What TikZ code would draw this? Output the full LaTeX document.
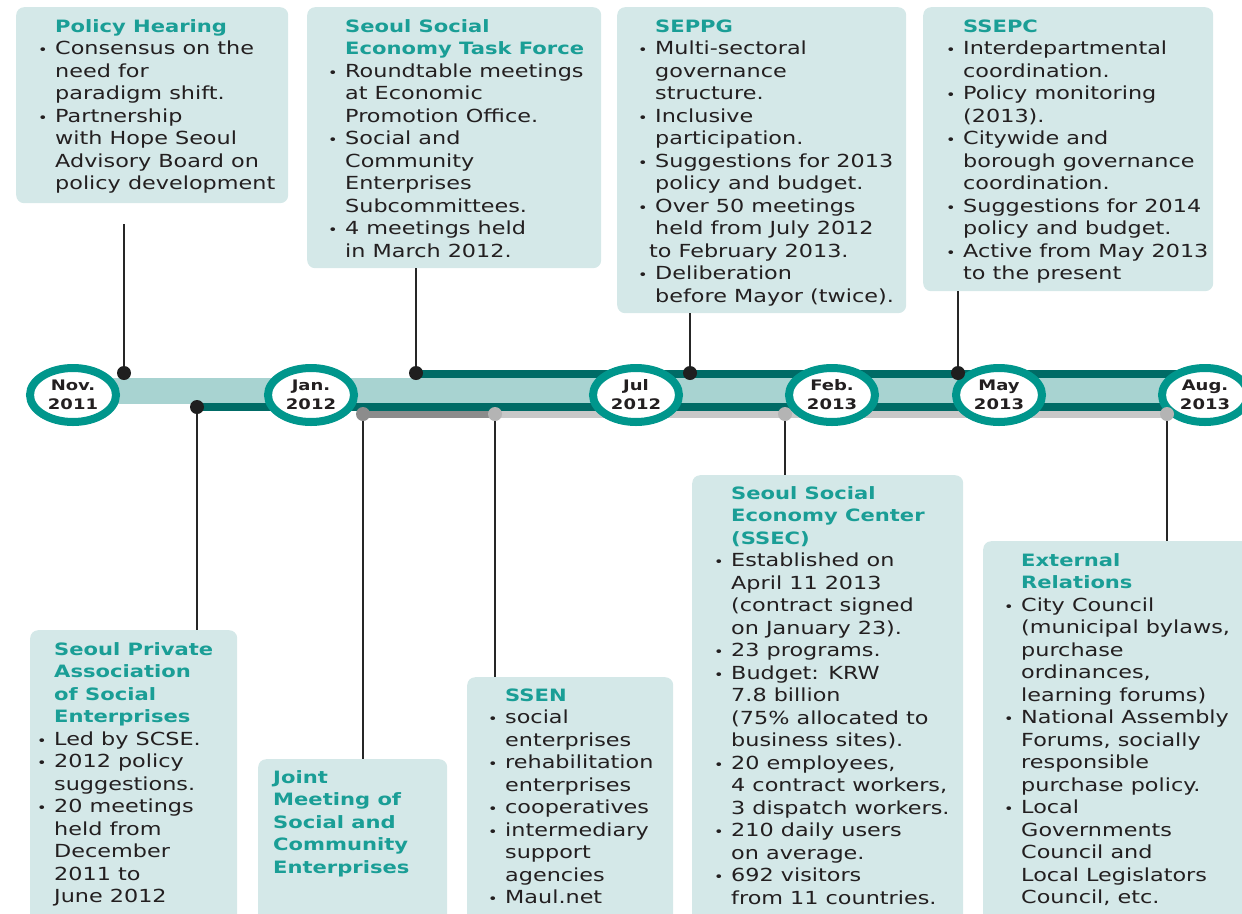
\documentclass[tikz,border=0pt]{standalone}
\usepackage{fontspec}
\setmainfont{DejaVu Sans}[FakeStretch=1.24]
\usetikzlibrary{shapes.geometric}
\definecolor{boxc}{HTML}{D4E8E8}
\definecolor{titlec}{HTML}{1A9E96}
\definecolor{bodyc}{HTML}{231F20}
\definecolor{ringc}{HTML}{00968C}
\definecolor{bandc}{HTML}{A8D3D1}
\definecolor{darkt}{HTML}{006B66}
\definecolor{greyd}{HTML}{8C8C8C}
\definecolor{greyl}{HTML}{C8C8C8}
\newcommand\bl{\makebox[17pt][l]{\fontsize{13}{13}\selectfont •}}
\newcommand\ct{\hspace*{17pt}}
\newcommand\ttl[1]{{\fontsize{17}{22.5}\selectfont\bfseries\color{titlec}#1}}
\begin{document}
\begin{tikzpicture}[x=1pt,y=-1pt,
  box/.style={fill=boxc, rounded corners=8pt, inner sep=0pt, anchor=north west},
  txt/.style={anchor=base west, inner sep=0pt, text=bodyc, font=\fontsize{18}{22.5}\selectfont},
  ring/.style={ellipse, draw=ringc, line width=8pt, fill=white, minimum width=86pt, minimum height=54pt, inner sep=0pt, text=bodyc, font=\fontsize{14.5}{19}\selectfont\bfseries, align=center},
  dotk/.style={circle, fill=black!88, minimum size=14pt, inner sep=0pt},
  dotg/.style={circle, fill=greyd, minimum size=14pt, inner sep=0pt},
  dotl/.style={circle, fill=greyl!90!black, minimum size=14pt, inner sep=0pt},
  conn/.style={draw=black!85, line width=1.6pt},
  barT/.style={draw=darkt, line width=8pt},
  barG/.style={draw=greyd, line width=7pt},
  barL/.style={draw=greyl, line width=7pt}]
\useasboundingbox (0,0) rectangle (1242,913);

% boxes
\node[box, minimum width=272pt, minimum height=196pt] (b1) at (16,7) {};
\node[box, minimum width=294pt, minimum height=261pt] (b2) at (307,7) {};
\node[box, minimum width=289pt, minimum height=306pt] (b3) at (617,7) {};
\node[box, minimum width=290pt, minimum height=284pt] (b4) at (923,7) {};
\node[box, minimum width=207pt, minimum height=300pt] (b5) at (30,630) {};
\node[box, minimum width=189pt, minimum height=170pt] (b6) at (258,759) {};
\node[box, minimum width=206pt, minimum height=250pt] (b7) at (467,677) {};
\node[box, minimum width=271pt, minimum height=450pt] (b8) at (692,475) {};
\node[box, minimum width=275pt, minimum height=390pt] (b9) at (983,541) {};

% texts
\node[txt] (t1) at (38,32) {\begin{tabular}[t]{@{}l@{}}
\ct\ttl{Policy Hearing}\\
\bl Consensus on the\\
\ct need for\\
\ct paradigm shift.\\
\bl Partnership\\
\ct with Hope Seoul\\
\ct Advisory Board on\\
\ct policy development
\end{tabular}};
\node[txt] (t2) at (328,32) {\begin{tabular}[t]{@{}l@{}}
\ct\ttl{Seoul Social}\\
\ct\ttl{Economy Task Force}\\
\bl Roundtable meetings\\
\ct at Economic\\
\ct Promotion Office.\\
\bl Social and\\
\ct Community\\
\ct Enterprises\\
\ct Subcommittees.\\
\bl 4 meetings held\\
\ct in March 2012.
\end{tabular}};
\node[txt] (t3) at (638,32) {\begin{tabular}[t]{@{}l@{}}
\ct\ttl{SEPPG}\\
\bl Multi-sectoral\\
\ct governance\\
\ct structure.\\
\bl Inclusive\\
\ct participation.\\
\bl Suggestions for 2013\\
\ct policy and budget.\\
\bl Over 50 meetings\\
\ct held from July 2012\\
\hspace*{11pt}to February 2013.\\
\bl Deliberation\\
\ct before Mayor (twice).
\end{tabular}};
\node[txt] (t4) at (946,32) {\begin{tabular}[t]{@{}l@{}}
\ct\ttl{SSEPC}\\
\bl Interdepartmental\\
\ct coordination.\\
\bl Policy monitoring\\
\ct (2013).\\
\bl Citywide and\\
\ct borough governance\\
\ct coordination.\\
\bl Suggestions for 2014\\
\ct policy and budget.\\
\bl Active from May 2013\\
\ct to the present
\end{tabular}};
\node[txt] (t5) at (37,655) {\begin{tabular}[t]{@{}l@{}}
\ct\ttl{Seoul Private}\\
\ct\ttl{Association}\\
\ct\ttl{of Social}\\
\ct\ttl{Enterprises}\\
\bl Led by SCSE.\\
\bl 2012 policy\\
\ct suggestions.\\
\bl 20 meetings\\
\ct held from\\
\ct December\\
\ct 2011 to\\
\ct June 2012
\end{tabular}};
\node[txt] (t6) at (273,783) {\begin{tabular}[t]{@{}l@{}}
\ttl{Joint}\\
\ttl{Meeting of}\\
\ttl{Social and}\\
\ttl{Community}\\
\ttl{Enterprises}
\end{tabular}};
\node[txt] (t7) at (488,701) {\begin{tabular}[t]{@{}l@{}}
\ct\ttl{SSEN}\\
\bl social\\
\ct enterprises\\
\bl rehabilitation\\
\ct enterprises\\
\bl cooperatives\\
\bl intermediary\\
\ct support\\
\ct agencies\\
\bl Maul.net
\end{tabular}};
\node[txt] (t8) at (714,499) {\begin{tabular}[t]{@{}l@{}}
\ct\ttl{Seoul Social}\\
\ct\ttl{Economy Center}\\
\ct\ttl{(SSEC)}\\
\bl Established on\\
\ct April 11 2013\\
\ct (contract signed\\
\ct on January 23).\\
\bl 23 programs.\\
\bl Budget: KRW\\
\ct 7.8 billion\\
\ct (75\% allocated to\\
\ct business sites).\\
\bl 20 employees,\\
\ct 4 contract workers,\\
\ct 3 dispatch workers.\\
\bl 210 daily users\\
\ct on average.\\
\bl 692 visitors\\
\ct from 11 countries.
\end{tabular}};
\node[txt] (t9) at (1004,566) {\begin{tabular}[t]{@{}l@{}}
\ct\ttl{External}\\
\ct\ttl{Relations}\\
\bl City Council\\
\ct (municipal bylaws,\\
\ct purchase\\
\ct ordinances,\\
\ct learning forums)\\
\bl National Assembly\\
\ct Forums, socially\\
\ct responsible\\
\ct purchase policy.\\
\bl Local\\
\ct Governments\\
\ct Council and\\
\ct Local Legislators\\
\ct Council, etc.
\end{tabular}};

% dot positions
\coordinate (d1) at (124,373);
\coordinate (d2) at (416,373);
\coordinate (d3) at (690,373);
\coordinate (d4) at (958,373);
\coordinate (d5) at (197,407);
\coordinate (g1) at (363,414);
\coordinate (g2) at (495,414);
\coordinate (g3) at (785,414);
\coordinate (g4) at (1167,414);
\coordinate (c1) at (124,224);

% connectors
\draw[conn] (c1) -- (d1);
\draw[conn] (b2.south -| d2) -- (d2);
\draw[conn] (b3.south -| d3) -- (d3);
\draw[conn] (b4.south -| d4) -- (d4);
\draw[conn] (d5) -- (b5.north -| d5);
\draw[conn] (g1) -- (b6.north -| g1);
\draw[conn] (g2) -- (b7.north -| g2);
\draw[conn] (g3) -- (b8.north -| g3);
\draw[conn] (g4) -- (b9.north -| g4);

% timeline band
\fill[bandc] (73,378) rectangle (1205,404);
\coordinate (endT) at (1205,374);
\coordinate (endB) at (1205,407);
\draw[barT] (416,374) -- (endT);
\draw[barT] (d5) -- (endB);
\draw[barG] (g1) -- (g2);
\draw[barL] (g2) -- (g4);

% month circles
\node[ring] (nov) at (73,395) {Nov.\\2011};
\node[ring] (jan) at (311,395) {Jan.\\2012};
\node[ring] (jul) at (636,395) {Jul\\2012};
\node[ring] (feb) at (832,395) {Feb.\\2013};
\node[ring] (may) at (999,395) {May\\2013};
\node[ring] (aug) at (1205,395) {Aug.\\2013};

% dots on top
\node[dotk] at (d1) {};
\node[dotk] at (d2) {};
\node[dotk] at (d3) {};
\node[dotk] at (d4) {};
\node[dotk] at (d5) {};
\node[dotg] at (g1) {};
\node[dotl] at (g2) {};
\node[dotl] at (g3) {};
\node[dotl] at (g4) {};
\end{tikzpicture}
\end{document}
